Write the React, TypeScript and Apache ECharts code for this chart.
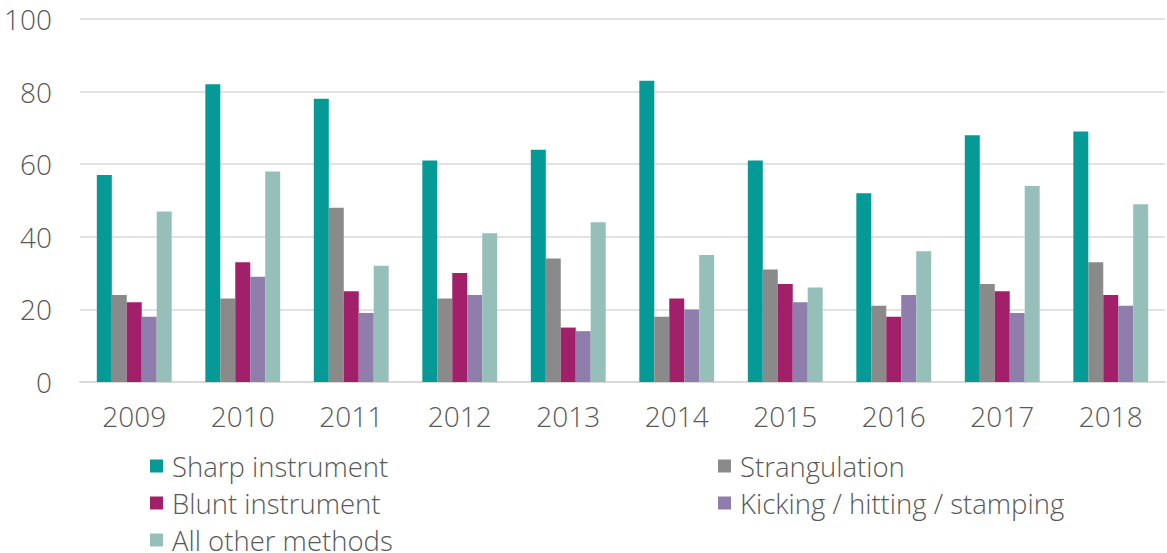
import React, { useEffect, useRef } from "react";
import * as echarts from "echarts";

const years = ["2009", "2010", "2011", "2012", "2013", "2014", "2015", "2016", "2017", "2018"];
const sharp = [57, 82, 78, 61, 64, 83, 61, 52, 68, 69];
const strangulation = [24, 23, 48, 23, 34, 18, 31, 21, 27, 33];
const blunt = [22, 33, 25, 30, 15, 23, 27, 18, 25, 24];
const kicking = [18, 29, 19, 24, 14, 20, 22, 24, 19, 21];
const other = [47, 58, 32, 41, 44, 35, 26, 36, 54, 49];

const names = ["Sharp instrument", "Strangulation", "Blunt instrument", "Kicking / hitting / stamping", "All other methods"];
const colors = ["#069A97", "#898A89", "#A2206A", "#8F7DAB", "#96BFB9"];
const values = [sharp, strangulation, blunt, kicking, other];

export default function App() {
  const ref = useRef<HTMLDivElement>(null);
  useEffect(() => {
    const chart = echarts.init(ref.current!, null, { renderer: "svg" });
    const font = "'Open Sans', Lato, sans-serif";
    const legendText = { fontSize: 27.5, color: "#595959", fontFamily: font, fontWeight: 300, lineHeight: 26, padding: [0, 0, 0, 4] };
    const legendBase = {
      orient: "vertical",
      padding: 0,
      itemWidth: 13,
      itemHeight: 13,
      icon: "rect",
      textStyle: legendText,
    };
    const slots = [
      { left: 150, top: 452 },
      { left: 718, top: 452 },
      { left: 150, top: 489 },
      { left: 718, top: 489 },
      { left: 150, top: 526 },
    ];
    chart.setOption({
      animation: false,
      textStyle: { fontFamily: font },
      grid: { left: 80, right: 2, top: 19, bottom: 171 },
      legend: names.map((n, i) => ({ ...legendBase, left: slots[i].left, top: slots[i].top, data: [n] })),
      xAxis: {
        type: "category",
        data: years,
        axisLine: { lineStyle: { color: "#D9D9D9", width: 2 } },
        axisTick: { show: false },
        axisLabel: { fontSize: 28, color: "#595959", margin: 20, fontFamily: font, fontWeight: 300 },
      },
      yAxis: {
        type: "value",
        min: 0,
        max: 100,
        interval: 20,
        axisLine: { show: false },
        axisTick: { show: false },
        splitLine: { lineStyle: { color: "#D9D9D9", width: 1.5 } },
        axisLabel: { fontSize: 28, color: "#595959", margin: 28, fontFamily: font, fontWeight: 300 },
      },
      series: names.map((n, i) => ({
        name: n,
        type: "bar",
        data: values[i],
        barGap: "0%",
        barCategoryGap: "31%",
        itemStyle: { color: colors[i] },
      })),
    });
    return () => chart.dispose();
  }, []);
  return <div ref={ref} style={{ width: 1167, height: 553, position: "absolute", left: 0, top: 0 }} />;
}
